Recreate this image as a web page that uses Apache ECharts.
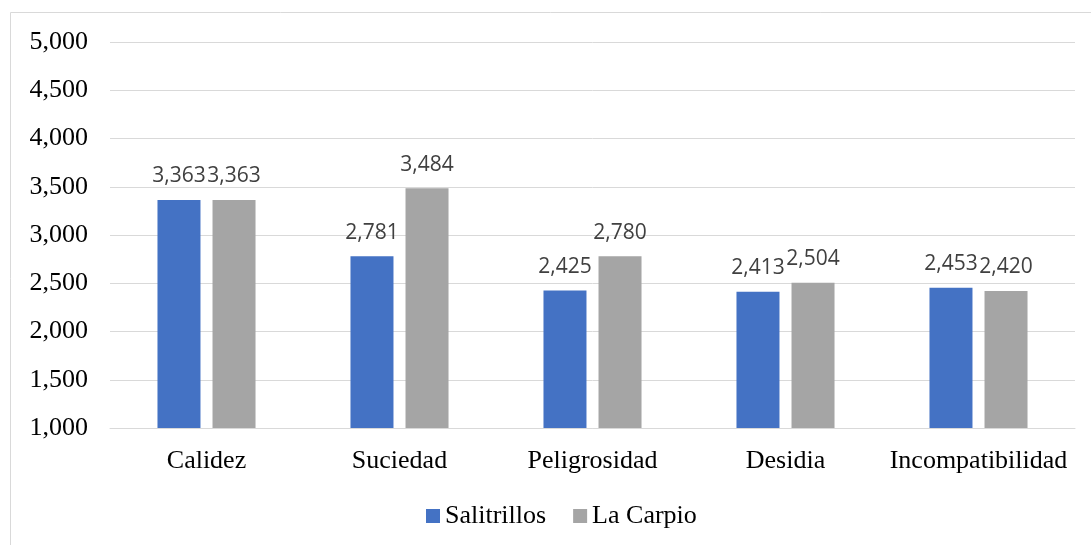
<!DOCTYPE html>
<html><head><meta charset="utf-8">
<script src="https://cdn.jsdelivr.net/npm/echarts@6/dist/echarts.min.js"></script>
<style>html,body{margin:0;padding:0;background:#fff}#c{width:1091px;height:545px}</style>
</head><body><div id="c"></div>
<script>
const categories = ['Calidez','Suciedad','Peligrosidad','Desidia','Incompatibilidad'];
const salitrillos = [3363, 2781, 2425, 2413, 2453];
const laCarpio = [3363, 3484, 2780, 2504, 2420];
const seriesNames = ['Salitrillos','La Carpio'];

const fmt = v => v.toLocaleString('en-US');
const serif = '"Liberation Serif","Times New Roman",serif';
const sans = '"Open Sans","Noto Sans",sans-serif';

const chart = echarts.init(document.getElementById('c'));
const lbl = {show:true, position:'top', distance:13, fontFamily:sans, fontSize:21, color:'#404040', formatter:p=>fmt(p.value)};
chart.setOption({
  animation:false,
  graphic:[
    {type:'line', shape:{x1:10.5,y1:12.5,x2:1091,y2:12.5}, style:{stroke:'#d9d9d9',lineWidth:1}, silent:true},
    {type:'line', shape:{x1:10.5,y1:12.5,x2:10.5,y2:545}, style:{stroke:'#d9d9d9',lineWidth:1}, silent:true}
  ],
  grid:{left:110, right:16, top:42, bottom:117},
  legend:{bottom:11, left:421, itemWidth:14, itemHeight:14, itemGap:27, icon:'rect',
    textStyle:{fontFamily:serif, fontSize:26, color:'#000'}, data:seriesNames},
  xAxis:{type:'category', data:categories,
    axisLine:{lineStyle:{color:'#d9d9d9', width:1}}, axisTick:{show:false},
    axisLabel:{interval:0, fontFamily:serif, fontSize:26, color:'#000', margin:20}},
  yAxis:{type:'value', min:1000, max:5000, interval:500,
    axisLine:{show:false}, axisTick:{show:false},
    splitLine:{lineStyle:{color:'#d9d9d9', width:1}},
    axisLabel:{fontFamily:serif, fontSize:26, color:'#000', margin:22, formatter:v=>fmt(v)}},
  series:[
    {name:seriesNames[0], type:'bar', data:salitrillos, barWidth:43, barGap:'28%', itemStyle:{color:'#4472c4'}, label:lbl},
    {name:seriesNames[1], type:'bar', data:laCarpio, barWidth:43, barGap:'28%', itemStyle:{color:'#a5a5a5'}, label:lbl}
  ]
});
</script></body></html>
